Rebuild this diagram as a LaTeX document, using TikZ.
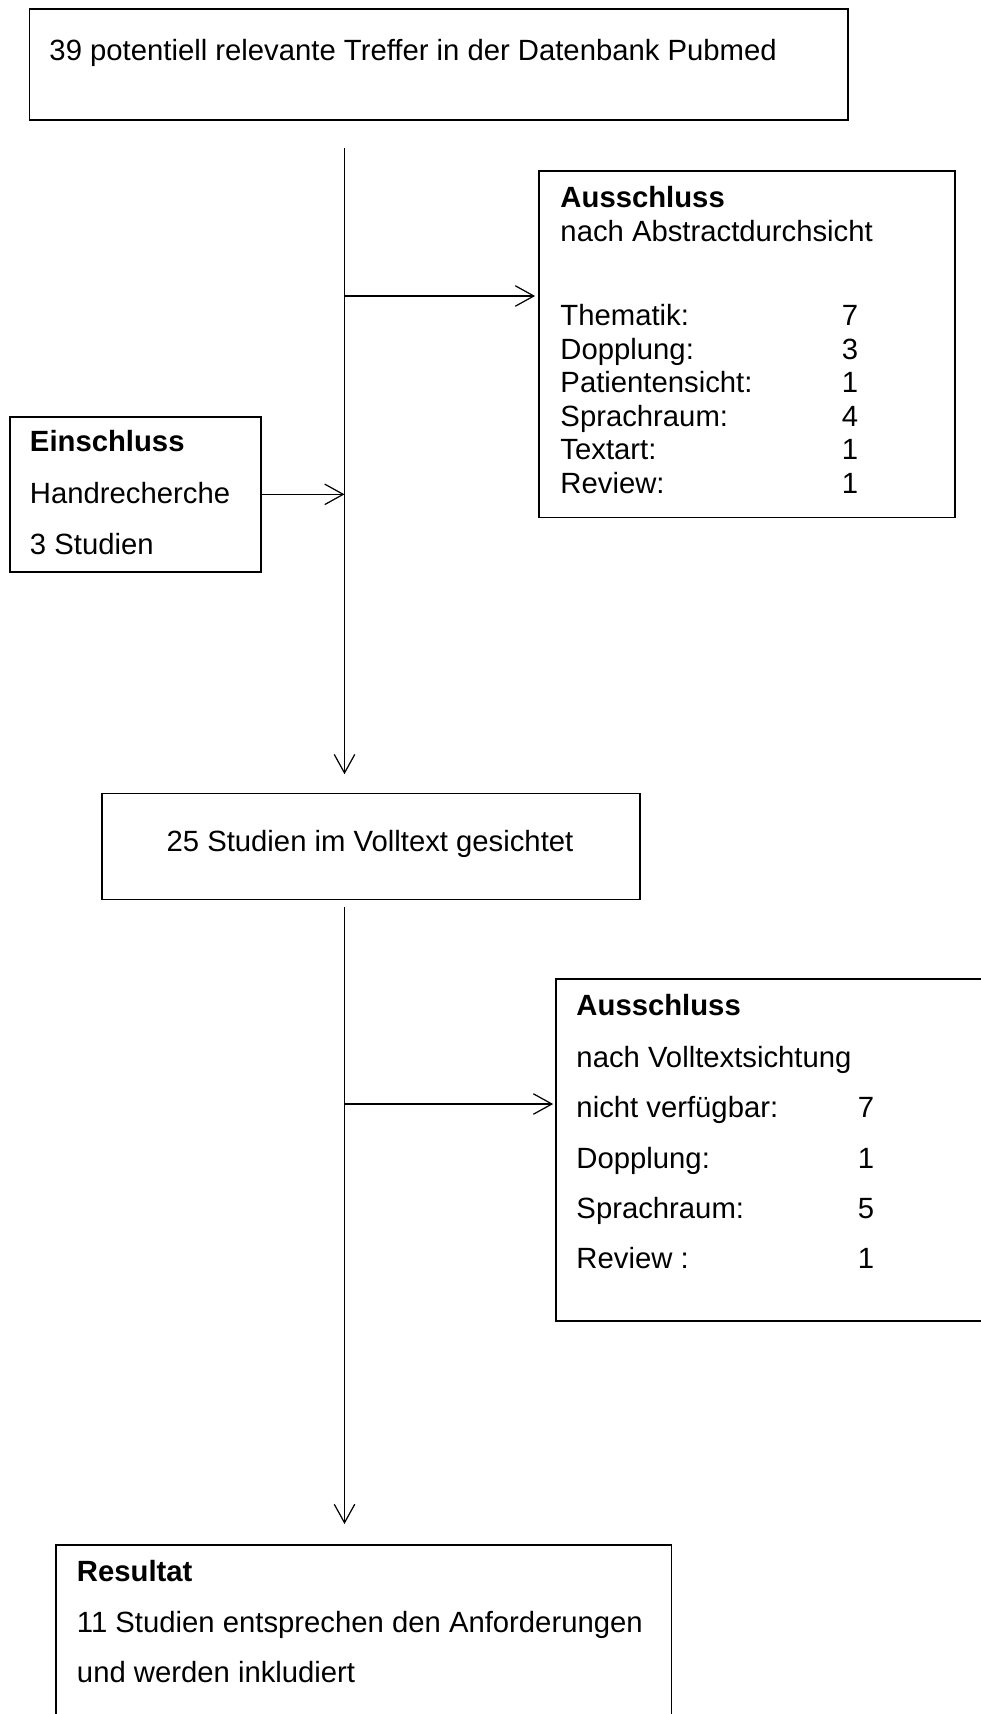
\documentclass[tikz,border=0pt]{standalone}
\usepackage{fontspec}
\setmainfont{Liberation Sans}
\usetikzlibrary{arrows.meta,fit}

\begin{document}
\begin{tikzpicture}[x=0.41pt,y=-0.41pt,
  box/.style={draw,line width=0.8pt,inner sep=0pt},
  txt/.style={inner sep=0pt,anchor=base west,font=\fontsize{12}{14}\selectfont},
  num/.style={inner sep=0pt,anchor=base,font=\fontsize{12}{14}\selectfont},
  hd/.style={txt,font=\fontsize{12}{14}\selectfont\bfseries},
  conn/.style={line width=0.5pt,-{Straight Barb[length=7.6pt,width=8.4pt,line width=0.5pt]}},
  plain/.style={line width=0.5pt}]
\useasboundingbox (0,0) rectangle (981,1714);
\clip (0,0) rectangle (981,1714);

% boxes
\node[box,fit={(29.5,8.75) (847.6,120.3)}] (top) {};
\node[box,fit={(539,170.6) (955,517.5)}] (ex1) {};
\node[box,fit={(9.8,416.7) (261.4,572)}] (ein) {};
\node[box,fit={(102,793.5) (640,899.5)}] (mid) {};
\node[box,fit={(555.6,979) (1010,1321)}] (ex2) {};
\node[box,fit={(55.7,1545) (671.5,1750)}] (res) {};

% texts
\node[txt] (t1) at (49,61) {39 potentiell relevante Treffer in der Datenbank Pubmed};

\node[hd]  (a0) at (560,208) {Ausschluss};
\node[txt] (a1) at (560,241.4) {nach Abstractdurchsicht};
\node[txt] (a2) at (560,325.7) {Thematik:};
\node[txt] (a3) at (560,359.2) {Dopplung:};
\node[txt] (a4) at (560,392.7) {Patientensicht:};
\node[txt] (a5) at (560,426.2) {Sprachraum:};
\node[txt] (a6) at (560,459.7) {Textart:};
\node[txt] (a7) at (560,493.2) {Review:};
\node[num] (n2) at (850,325.7) {7};
\node[num] (n3) at (850,359.2) {3};
\node[num] (n4) at (850,392.7) {1};
\node[num] (n5) at (850,426.2) {4};
\node[num] (n6) at (850,459.7) {1};
\node[num] (n7) at (850,493.2) {1};

\node[hd]  (e0) at (29.5,451.8) {Einschluss};
\node[txt] (e1) at (29.5,503) {Handrecherche};
\node[txt] (e2) at (29.5,554) {3 Studien};

\node[num] (m1) at (370,851) {25 Studien im Volltext gesichtet};

\node[hd]  (b0) at (576,1015.5) {Ausschluss};
\node[txt] (b1) at (576,1067) {nach Volltextsichtung};
\node[txt] (b2) at (576,1117.5) {nicht verfügbar:};
\node[txt] (b3) at (576,1168) {Dopplung:};
\node[txt] (b4) at (576,1218) {Sprachraum:};
\node[txt] (b5) at (576,1268.5) {Review :};
\node[num] (p2) at (866,1117.5) {7};
\node[num] (p3) at (866,1168) {1};
\node[num] (p4) at (866,1218) {5};
\node[num] (p5) at (866,1268.5) {1};

\node[hd]  (r0) at (76.5,1581) {Resultat};
\node[txt] (r1) at (76.5,1632) {11 Studien entsprechen den Anforderungen};
\node[txt] (r2) at (76.5,1682.5) {und werden inkludiert};

% connectors
\coordinate (s1) at (344.5,147.6);
\coordinate (k1) at (344.5,296);
\coordinate (s2) at (344.5,906.5);
\coordinate (k2) at (344.5,1104);

\draw[conn,shorten >=7.5pt] (s1) -- (s1 |- mid.north);
\draw[conn,shorten >=1.2pt] (k1) -- (k1 -| ex1.west);
\draw[conn] (ein.east) -- (ein.east -| s1);
\draw[conn,shorten >=8.2pt] (s2) -- (s2 |- res.north);
\draw[conn,shorten >=0.6pt] (k2) -- (k2 -| ex2.west);
\end{tikzpicture}
\end{document}
